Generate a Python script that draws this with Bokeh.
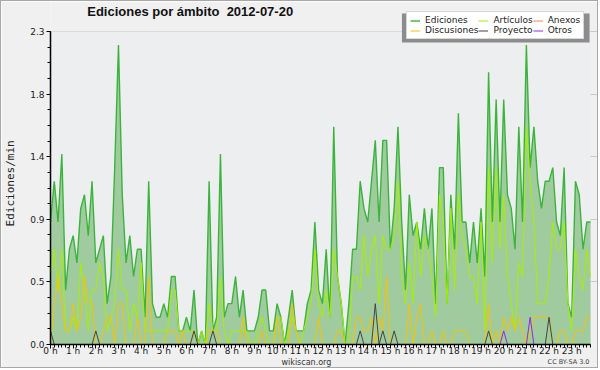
import numpy as np
from bokeh.plotting import figure
from bokeh.models import (ColumnDataSource, Range1d, FixedTicker, Legend, LegendItem,
                          Title, Label, BoxAnnotation)
from bokeh.embed import file_html
from bokeh.resources import INLINE

# 10-minute bins over the day (144 bins)
ediciones = [0.9,1.2,0.9,1.4,0.4,0.7,0.8,0.6,1.0,1.1,
             0.8,1.2,0.6,0.7,0.8,0.3,0.5,1.3,2.2,1.1,
             0.6,0.8,0.5,0.7,0.7,0.2,1.2,0.3,0.2,0.2,
             0.3,0.2,0.5,0.5,0.1,0.1,0.2,0.1,0.4,0.0,
             0.1,0.0,1.2,0.1,0.2,1.4,0.2,0.3,0.3,0.5,
             0.2,0.4,0.1,0.1,0.1,0.2,0.4,0.4,0.1,0.1,
             0.3,0.2,0.0,0.2,0.4,0.1,0.1,0.1,0.3,0.4,
             0.9,0.4,0.3,0.7,0.2,1.6,0.5,0.3,0.0,0.3,
             0.7,0.7,1.2,1.0,0.9,1.2,1.5,0.9,1.5,1.5,
             0.7,1.0,1.6,0.9,0.4,1.1,0.8,0.9,0.7,1.0,
             0.7,1.0,0.3,1.3,1.3,0.3,1.1,0.7,1.7,0.9,
             0.9,0.6,0.9,0.6,1.0,0.5,2.0,0.9,1.8,0.9,
             1.8,1.1,1.0,0.7,1.6,0.9,2.2,1.3,1.6,1.2,
             1.0,1.2,1.2,1.3,0.9,0.8,1.3,0.3,0.2,1.2,
             1.1,0.7,0.9,0.9]
articulos = [0.5,0.7,0.4,0.7,0.1,0.1,0.2,0.1,0.6,0.4,
             0.1,0.4,0.4,0.6,0.5,0.1,0.2,0.3,0.7,0.4,
             0.4,0.1,0.3,0.2,0.6,0.1,0.1,0.1,0.1,0.1,
             0.1,0.1,0.4,0.4,0.1,0.1,0.1,0.1,0.1,0.0,
             0.1,0.0,0.3,0.1,0.1,0.5,0.1,0.0,0.1,0.1,
             0.1,0.1,0.1,0.0,0.0,0.1,0.2,0.1,0.0,0.0,
             0.2,0.2,0.0,0.1,0.2,0.1,0.0,0.1,0.2,0.3,
             0.7,0.3,0.2,0.4,0.2,0.7,0.5,0.3,0.0,0.0,
             0.5,0.5,0.4,0.8,0.5,0.7,0.8,0.3,0.8,0.7,
             0.7,0.8,1.2,0.5,0.3,0.6,0.3,0.9,0.5,0.8,
             0.7,0.5,0.2,1.1,0.9,0.3,1.0,0.4,1.1,0.8,
             0.7,0.5,0.5,0.3,0.9,0.1,1.3,0.6,1.3,0.7,
             1.1,0.5,0.3,0.1,0.6,0.5,1.6,1.2,0.9,0.3,
             0.3,0.3,0.5,0.9,0.7,0.7,0.9,0.3,0.1,0.7,
             0.5,0.4,0.7,0.5]
discusiones = [0.0,0.3,0.5,0.3,0.1,0.1,0.3,0.1,0.2,0.5,
               0.3,0.3,0.0,0.0,0.1,0.2,0.2,0.0,0.3,0.3,
               0.0,0.0,0.0,0.2,0.0,0.0,0.5,0.0,0.0,0.0,
               0.0,0.1,0.1,0.1,0.0,0.1,0.0,0.0,0.1,0.0,
               0.0,0.0,0.1,0.1,0.1,0.0,0.0,0.0,0.0,0.0,
               0.0,0.2,0.0,0.0,0.0,0.0,0.1,0.0,0.0,0.0,
               0.2,0.0,0.0,0.0,0.3,0.1,0.0,0.0,0.0,0.0,
               0.0,0.2,0.0,0.0,0.0,0.0,0.1,0.1,0.0,0.0,
               0.0,0.2,0.2,0.1,0.1,0.2,0.0,0.2,0.1,0.5,
               0.0,0.0,0.0,0.0,0.0,0.3,0.0,0.2,0.3,0.0,
               0.0,0.1,0.0,0.0,0.1,0.0,0.0,0.1,0.1,0.1,
               0.1,0.0,0.0,0.0,0.0,0.0,0.3,0.0,0.1,0.0,
               0.2,0.1,0.2,0.1,0.2,0.1,0.0,0.1,0.2,0.2,
               0.2,0.2,0.2,0.0,0.0,0.1,0.1,0.0,0.0,0.1,
               0.1,0.1,0.2,0.2]
anexos = [0.0] * 144
proyecto = [0.0] * 144
for i, v in [(0, 0.1), (12, 0.1), (38, 0.1), (43, 0.1), (82, 0.1), (86, 0.3),
             (88, 0.1), (91, 0.1), (116, 0.1), (132, 0.2)]:
    proyecto[i] = v
otros = [0.0] * 144
for i, v in [(120, 0.1), (127, 0.2)]:
    otros[i] = v

hours = list(range(24))
hour_labels = [f"{h} h" for h in hours]
y_ticks = [0.0, 0.46, 0.92, 1.38, 1.84, 2.3]
y_labels = ["0.0", "0.5", "0.9", "1.4", "1.8", "2.3"]
Y_MAX = 2.3
T_MAX = 143 / 6.0

# geometry in canvas pixels (canvas = page minus 1px border)
B = 1
W, H = 600 - 2 * B, 370 - 2 * B
FL, FR, FT, FB = 46 - B, 599 - B, 2 - B, 344 - B     # frame edges
DL, DR, DT = 46 - B, 590 - B, 31 - B                 # data area edges
x_end = T_MAX * (FR - FL) / (DR - FL)
y_end = Y_MAX * (FB - FT) / (FB - DT)


def dx(px):
    return (px - B - FL) * T_MAX / (DR - FL)


def dy(py):
    return (FB - (py - B)) * Y_MAX / (FB - DT)


t = np.arange(144) / 6.0
src = ColumnDataSource(dict(t=t, ed=ediciones, ar=articulos, di=discusiones,
                            an=anexos, pr=proyecto, ot=otros, zero=[0.0] * 144))

p = figure(width=W, height=H, output_backend="svg", toolbar_location=None,
           x_range=Range1d(0, x_end), y_range=Range1d(0, y_end),
           min_border_left=FL, min_border_right=W - FR, min_border_top=FT,
           min_border_bottom=H - FB)
p.styles = {"border": "1px solid #a8a8a8"}
p.background_fill_color = "#f0f0f0"
p.border_fill_color = "#f0f0f0"
p.outline_line_color = None

# plot area background
p.add_layout(BoxAnnotation(left=0, right=T_MAX, bottom=0, top=Y_MAX,
                           fill_color="#eceef0", fill_alpha=1.0, line_color=None,
                           level="underlay"))

p.varea(x="t", y1="zero", y2="ed", source=src, fill_color="#9fcb9f", fill_alpha=1.0)
r_ed = p.line("t", "ed", source=src, line_color="#3cb43c", line_width=1.4)
r_ar = p.line("t", "ar", source=src, line_color="#a6f000", line_width=1)
r_di = p.line("t", "di", source=src, line_color="#f5c400", line_width=1)
r_an = p.line("t", "an", source=src, line_color="#ff7f50", line_width=1)
r_pr = p.line("t", "pr", source=src, line_color="#444444", line_width=1)
r_ot = p.line("t", "ot", source=src, line_color="#8a2be2", line_width=1)

# axes
p.xaxis.ticker = FixedTicker(ticks=hours, minor_ticks=list(t))
p.xaxis.major_label_overrides = {h: l for h, l in zip(hours, hour_labels)}
p.xaxis.bounds = (0, T_MAX)
p.yaxis.ticker = FixedTicker(ticks=y_ticks,
                             minor_ticks=[i * 0.115 for i in range(21)])
p.yaxis.major_label_overrides = {v: l for v, l in zip(y_ticks, y_labels)}
p.yaxis.bounds = (0, Y_MAX)
for ax in (p.xaxis[0], p.yaxis[0]):
    ax.axis_line_color = "black"
    ax.axis_line_width = 1.5
    ax.major_tick_line_color = "black"
    ax.minor_tick_line_color = "black"
    ax.major_tick_in = 0
    ax.minor_tick_in = 0
    ax.major_tick_out = 4
    ax.minor_tick_out = 3
    ax.major_label_text_font = "DejaVu Sans"
    ax.major_label_text_font_size = "9px"
    ax.major_label_text_color = "#222222"
p.xaxis.major_label_standoff = -3
p.yaxis.major_label_standoff = 2
p.yaxis.axis_label = "Ediciones/min\u00a0\u00a0\u00a0"
p.yaxis.axis_label_text_font = "DejaVu Sans Mono"
p.yaxis.axis_label_text_font_size = "11px"
p.yaxis.axis_label_text_font_style = "normal"
p.yaxis.axis_label_text_color = "#222222"
p.yaxis.axis_label_standoff = 10
p.xgrid.grid_line_color = None
p.ygrid.grid_line_color = "#c8c8c8"
p.ygrid.bounds = (0, T_MAX)

# title inside the (extended) frame
p.add_layout(Label(x=dx(83), y=dy(11), text="Ediciones por ámbito \u00a02012-07-20",
                   text_align="left", text_baseline="alphabetic",
                   text_font="Liberation Sans", text_font_size="13px",
                   text_font_style="bold", text_color="#111111"))

# legend shadow + legend
p.add_layout(BoxAnnotation(left=dx(400), right=dx(589), bottom=dy(42), top=dy(13),
                           fill_color="#8c8c8c", fill_alpha=1.0, line_color=None))
legend = Legend(items=[LegendItem(label="Ediciones", renderers=[r_ed]),
                       LegendItem(label="Discusiones", renderers=[r_di]),
                       LegendItem(label="Artículos", renderers=[r_ar]),
                       LegendItem(label="Proyecto", renderers=[r_pr]),
                       LegendItem(label="Anexos", renderers=[r_an]),
                       LegendItem(label="Otros", renderers=[r_ot])],
                location=(402 - B - FL, FB - (39 - B)), orientation="vertical", nrows=2,
                label_text_font="DejaVu Sans", label_text_font_size="9px",
                label_text_color="#222222", glyph_width=10, glyph_height=9,
                label_standoff=5, label_height=10, padding=3, spacing=0, margin=0,
                border_line_color="#b0b0b0", border_line_width=1,
                background_fill_color="white", background_fill_alpha=1.0)
p.add_layout(legend, "center")

# footer texts
p.add_layout(Title(text="wikiscan.org", align="left", offset=277 - B - FL,
                   text_font="DejaVu Sans", text_font_size="8px",
                   text_font_style="normal", text_color="#333333", standoff=-2,
                   vertical_align="top"), "below")
p.add_layout(Title(text="CC BY-SA 3.0", align="right", offset=10,
                   text_font="DejaVu Sans", text_font_size="6.5px",
                   text_font_style="normal", text_color="#444444", standoff=-19,
                   vertical_align="top"), "below")

open("out.html", "w").write(file_html(p, INLINE))
